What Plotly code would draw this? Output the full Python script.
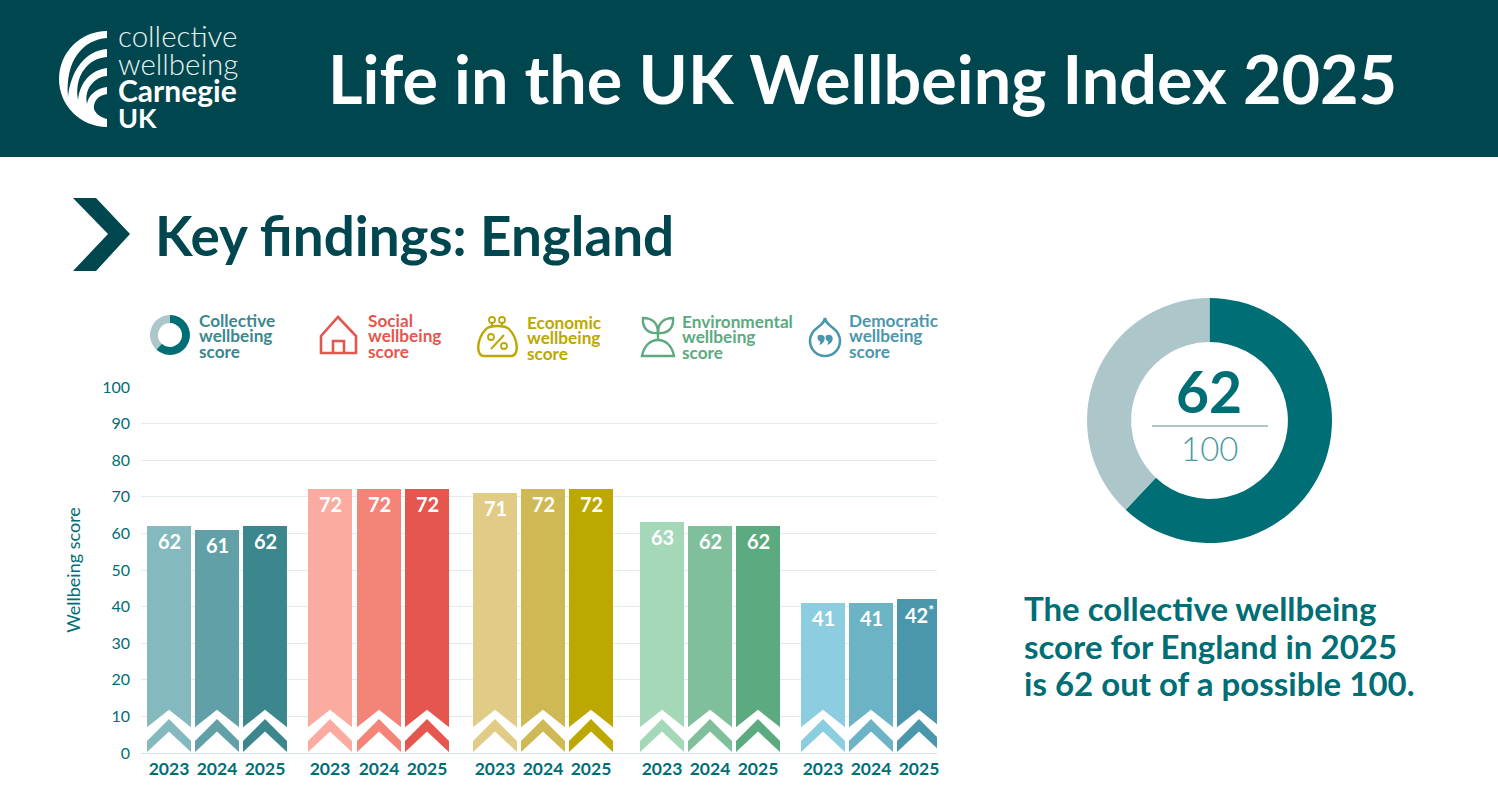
import plotly.graph_objects as go

W, H = 1498, 812
NAVY = "#00464f"
TEAL = "#006e75"

# ---- data
years = ["2023", "2024", "2025"]
collective = [62, 61, 62]
social = [72, 72, 72]
economic = [71, 72, 72]
environmental = [63, 62, 62]
democratic = [41, 41, 42]
headline_score = [62, 38]
y_ticks = [0, 10, 20, 30, 40, 50, 60, 70, 80, 90, 100]

# ---- layout of groups (styling, not data)
groups = [
    ("Collective", collective, ["#84b9bd", "#60a0a6", "#3c878d"], [169, 217, 265]),
    ("Social", social, ["#fcaba0", "#f48477", "#e5564f"], [330, 379, 427]),
    ("Economic", economic, ["#e0cc87", "#cfb955", "#bca800"], [495, 543, 591]),
    ("Environmental", environmental, ["#a4d8b9", "#80bf9b", "#5caa80"], [662, 710, 758]),
    ("Democratic", democratic, ["#8ccde0", "#6cb3c6", "#4a97ad"], [823, 871, 919]),
]
BAR_W = 44
FONT = "Lato"

fig = go.Figure()
annotations = []
shapes = []


def px_text(x, y, text, size, color, anchor="left", bold=False, weight=None):
    f = dict(family=FONT, size=size, color=color)
    if weight:
        f["weight"] = weight
    annotations.append(dict(
        xref="x2", yref="y2", x=x, y=y, text=f"<b>{text}</b>" if bold else text,
        showarrow=False, xanchor=anchor, yanchor="middle", borderpad=0, borderwidth=0,
        font=f,
    ))


def px_path(path, fill=None, line=None, width=0):
    shapes.append(dict(
        type="path", xref="x2", yref="y2", path=path,
        fillcolor=fill or "rgba(0,0,0,0)",
        line=dict(color=line or "rgba(0,0,0,0)", width=width),
        layer="above",
    ))


def circle(cx, cy, r):
    k = 0.5523 * r
    return (f"M {cx-r} {cy} C {cx-r} {cy-k} {cx-k} {cy-r} {cx} {cy-r} "
            f"C {cx+k} {cy-r} {cx+r} {cy-k} {cx+r} {cy} "
            f"C {cx+r} {cy+k} {cx+k} {cy+r} {cx} {cy+r} "
            f"C {cx-k} {cy+r} {cx-r} {cy+k} {cx-r} {cy} Z")


fig.add_trace(go.Scatter(x=[0], y=[0], xaxis="x2", yaxis="y2", mode="markers",
                         marker=dict(opacity=0), hoverinfo="skip", showlegend=False))

# bars
tickvals, ticktext = [], []
for name, values, colors, centres in groups:
    fig.add_trace(go.Bar(
        x=centres, y=values, width=BAR_W, marker=dict(color=colors, line=dict(width=0)),
        name=name, showlegend=False,
    ))
    for cx, v, yr in zip(centres, values, years):
        tickvals.append(cx)
        ticktext.append(f"<b>{yr}</b>")
        label = f"<b>{v}</b>"
        if name == "Democratic" and yr == "2025":
            label = f"<b>{v}<sup>*</sup></b>"
        annotations.append(dict(
            xref="x", yref="y", x=cx, y=v, yshift=-15, text=label, showarrow=False,
            font=dict(family=FONT, size=20, color="white"), yanchor="middle",
        ))
        half = BAR_W / 2 + 1
        shapes.append(dict(
            type="path", xref="x", yref="y", layer="above", fillcolor="white",
            line=dict(width=0),
            path=(f"M {cx-half} 6.8 L {cx} 11.8 L {cx+half} 6.8 L {cx+half} 3.0 "
                  f"L {cx} 9.3 L {cx-half} 3.0 Z"),
        ))
        shapes.append(dict(
            type="path", xref="x", yref="y", layer="above", fillcolor="white",
            line=dict(width=0),
            path=(f"M {cx-half} 0 L {cx} 5.9 L {cx+half} 0 Z"),
        ))

# headline donut
fig.add_trace(go.Pie(
    values=headline_score, hole=0.64, sort=False, direction="clockwise", rotation=0,
    marker=dict(colors=[TEAL, "#acc6c9"], line=dict(width=0)),
    textinfo="none", hoverinfo="skip", showlegend=False,
    domain=dict(x=[1087 / W, 1332 / W], y=[(H - 543) / H, (H - 298) / H]),
))
# legend donut
fig.add_trace(go.Pie(
    values=headline_score, hole=0.6, sort=False, direction="clockwise", rotation=0,
    marker=dict(colors=[TEAL, "#acc6c9"], line=dict(width=0)),
    textinfo="none", hoverinfo="skip", showlegend=False,
    domain=dict(x=[150 / W, 190 / W], y=[(H - 355) / H, (H - 315) / H]),
))

# header
shapes.insert(0, dict(type="rect", xref="x2", yref="y2", x0=0, x1=W, y0=0, y1=157,
                      fillcolor=NAVY, line=dict(width=0), layer="below"))
px_text(862, 78, "Life in the UK Wellbeing Index 2025", 66.5, "white", "center", True)
px_text(118, 35, "collective", 29.5, "#e8f0f0", weight=300)
px_text(118, 63, "wellbeing", 29.5, "#e8f0f0", weight=300)
px_text(118, 90, "Carnegie", 30, "white", bold=True)
px_text(118, 117, "UK", 27, "white", bold=True)

# logo
px_path("M 107 31 C 80.5 31 59 52.5 59 79 C 59 105.5 80.5 127 107 127 Z", fill="white")
px_path("M 107 38 C 83 40 65 60 68 97 C 71 70 85 51 107 49 Z", fill=NAVY)
px_path("M 107 57 C 88 58 74 76 78 100 C 80 82 91 70 107 68 Z", fill=NAVY)
px_path("M 107 76 C 95 77 84 88 87 104 C 88 96 96 88 107 87 Z", fill=NAVY)
px_path("M 107.5 94 C 98 95 93 102 94 109 C 95 113 101 118 107.5 119 Z", fill=NAVY)

# section heading
px_path("M 73 198 L 96 198 L 130 234 L 96 271 L 73 271 L 108 234 Z", fill=NAVY)
px_text(155, 235, "Key findings: England", 54.8, NAVY, bold=True)

# legend
legend_items = [
    (199, 320, ["Collective", "wellbeing", "score"], "#3c878d"),
    (368, 320, ["Social", "wellbeing", "score"], "#e5564f"),
    (527, 322, ["Economic", "wellbeing", "score"], "#bca800"),
    (682, 321, ["Environmental", "wellbeing", "score"], "#5caa80"),
    (849, 320, ["Democratic", "wellbeing", "score"], "#4a97ad"),
]
for lx, ly, lines, col in legend_items:
    for i, t in enumerate(lines):
        px_text(lx, ly + i * 15.7, t, 17.2, col, bold=True)

# house icon
px_path("M 321 336 L 338 317 L 356 336 L 356 353 L 321 353 Z", line="#e5564f", width=2.6)
px_path("M 333 353 L 333 341 L 344 341 L 344 353", line="#e5564f", width=2.6)
# purse icon
G = "#bca800"
px_path("M 486 329 C 476 340 476 356 484 356 L 511 356 C 519 356 519 340 509 329 "
        "C 505 325 490 325 486 329 Z", line=G, width=2.4)
px_path("M 492 326 L 492 323 M 502 326 L 502 323", line=G, width=2)
px_path(circle(492, 320, 3), line=G, width=1.8)
px_path(circle(502, 320, 3), line=G, width=1.8)
px_path("M 491 349 L 504 335", line=G, width=2)
px_path(circle(491, 337, 3), line=G, width=1.8)
px_path(circle(504, 346, 3), line=G, width=1.8)
# plant icon
E = "#5caa80"
px_path("M 642 356 C 644 346 650 340 658 340 C 666 340 672 346 674 356 Z", line=E, width=2.4)
px_path("M 658 340 L 658 330", line=E, width=2.4)
px_path("M 658 333 C 648 334 642 328 643 318 C 653 318 658 324 658 333 Z", line=E, width=2.4)
px_path("M 658 333 C 668 334 674 328 673 318 C 663 318 658 324 658 333 Z", line=E, width=2.4)
# democratic icon
D = "#4a97ad"
px_path("M 825 318 C 826 323 829 325 833 328 C 837 331 840 336 840 341 C 840 349.3 833.3 356 825 356 "
        "C 816.7 356 810 349.3 810 341 C 810 336 813 331 817 328 C 821 325 824 323 825 318 Z",
        line=D, width=2.6)
for qx in (817.5, 825.5):
    px_path(f"M {qx} 337 C {qx} 334 {qx+6} 334 {qx+7} 337 C {qx+8} 341 {qx+5} 344 {qx+2} 345 "
            f"C {qx+3} 342 {qx+3} 341 {qx+2} 341 C {qx+1} 341 {qx} 339 {qx} 337 Z", fill=D)

# right-hand text
px_text(1209, 391, "62", 57, TEAL, "center", True)
px_path("M 1152 426 L 1268 426", line="#acc6c9", width=2)
px_text(1209, 448, "100", 33, "#4f9aa1", "center", weight=300)
for i, t in enumerate(["The collective wellbeing", "score for England in 2025", "is 62 out of a possible 100."]):
    px_text(1024, 608 + i * 37.5, t, 33, TEAL, bold=True)

fig.update_layout(
    template="none",
    width=W, height=H, margin=dict(l=0, r=0, t=0, b=0, autoexpand=False),
    paper_bgcolor="white", plot_bgcolor="rgba(0,0,0,0)",
    bargap=0, barmode="overlay", showlegend=False,
    font=dict(family=FONT, color=TEAL),
    annotations=annotations, shapes=shapes,
    xaxis=dict(
        domain=[141 / W, 937 / W], range=[141, 937], tickmode="array",
        tickvals=tickvals, ticktext=ticktext, showgrid=False, zeroline=False,
        showline=True, linecolor="#d5e3e3", linewidth=1,
        ticks="", tickfont=dict(size=17.5, color=TEAL, family=FONT), tickangle=0,
        anchor="y", fixedrange=True, automargin=False,
    ),
    yaxis=dict(
        domain=[(H - 753) / H, (H - 387) / H], range=[0, 100], tickmode="array",
        tickvals=y_ticks, gridcolor="#e2ecec", gridwidth=1, zeroline=False,
        showline=False, ticks="", ticklabelstandoff=10,
        tickfont=dict(size=16, color=TEAL, family=FONT),
        anchor="x", fixedrange=True, automargin=False,
        title=dict(text="Wellbeing score", standoff=16, font=dict(size=18, color=TEAL, family=FONT)),
    ),
    xaxis2=dict(domain=[0, 1], range=[0, W], visible=False, anchor="y2", fixedrange=True, automargin=False),
    yaxis2=dict(domain=[0, 1], range=[H, 0], visible=False, anchor="x2", fixedrange=True, automargin=False),
)

fig.write_html("out.html", config=dict(displayModeBar=False),
               post_script="document.body.style.margin='0';")
